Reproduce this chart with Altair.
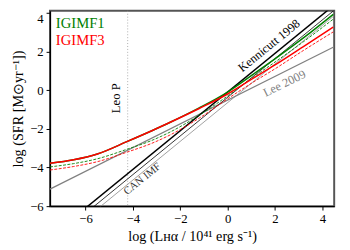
import altair as alt
import pandas as pd

# ---- data ----
ken_x = [-6.0, 4.5]
ken_y = [-6.1, 4.4]
can1_x = [-6.0, 4.5]
can1_y = [-6.37, 4.13]
can2_x = [-6.0, 4.5]
can2_y = [-6.65, 3.85]
lee_x = [-7.5, 4.5]
lee_y = [-5.12, 2.24]

ig_x = [-7.5, -6.5, -5.5, -4.23, -3.2, -2.4, -1.2, 0.0, 1.0, 2.0, 3.2, 4.46]
ig1_solid = [-3.78, -3.6, -3.3, -2.65, -2.1, -1.65, -0.92, -0.1, 0.75, 1.62, 2.7, 3.92]
ig3_solid = [-3.78, -3.6, -3.3, -2.65, -2.1, -1.65, -0.95, -0.2, 0.55, 1.3, 2.25, 3.26]
ig1_dash = [-3.97, -3.8, -3.55, -3.05, -2.6, -2.15, -1.3, -0.3, 0.6, 1.45, 2.5, 3.67]
ig3_dash = [-4.13, -3.95, -3.7, -3.2, -2.75, -2.3, -1.45, -0.45, 0.35, 1.1, 2.05, 3.01]

leo_p = -4.22

FONT = "Liberation Serif"
XD = [-7.5, 4.5]
YD = [-6, 4.1]

xs = alt.Scale(domain=XD, nice=False, zero=False)
ys = alt.Scale(domain=YD, nice=False, zero=False)

minus = "replace(datum.label, '-', '\u2212')"
xax = alt.Axis(values=[-6, -4, -2, 0, 2, 4], title="log (L\u029c\u03b1 / 10\u2074\u00b9 erg s\u207b\u00b9)",
               labelExpr=minus, grid=False)
yax = alt.Axis(values=[-6, -4, -2, 0, 2, 4], title="log (SFR [M\u2299yr\u207b\u00b9])",
               labelExpr=minus, grid=False,
               labelBaseline=alt.condition("datum.value == 4", alt.value("top"), alt.value("middle")))

X = lambda: alt.X("x:Q", scale=xs, axis=xax)
Y = lambda: alt.Y("y:Q", scale=ys, axis=yax)


def line(xv, yv, color, width, dash=None, interp="linear"):
    df = pd.DataFrame({"x": xv, "y": yv})
    kw = dict(color=color, strokeWidth=width, clip=True, interpolate=interp)
    if dash:
        kw["strokeDash"] = dash
    return alt.Chart(df).mark_line(**kw).encode(x=X(), y=Y())


leo = alt.Chart(pd.DataFrame({"x": [leo_p]})).mark_rule(
    color="#999999", strokeDash=[1, 2], strokeWidth=0.8
).encode(x=X())

layers = [
    line(lee_x, lee_y, "#808080", 1.2),
    leo,
    line(can2_x, can2_y, "#888888", 0.8),
    line(can1_x, can1_y, "black", 0.8),
    line(ken_x, ken_y, "black", 1.5),
    line(ig_x, ig1_dash, "green", 0.9, dash=[3, 1.5], interp="monotone"),
    line(ig_x, ig3_dash, "red", 0.9, dash=[3, 1.5], interp="monotone"),
    line(ig_x, ig1_solid, "green", 1.5, interp="monotone"),
    line(ig_x, ig3_solid, "red", 1.5, interp="monotone"),
]


def label(txt, x, y, angle, color, size):
    df = pd.DataFrame({"x": [x], "y": [y], "t": [txt]})
    return alt.Chart(df).mark_text(
        angle=angle, color=color, fontSize=size, font=FONT, align="center", baseline="middle"
    ).encode(x=X(), y=Y(), text="t:N")


layers += [
    label("Leo P", -4.7, -0.42, 270, "black", 13),
    label("Kennicutt 1998", 1.75, 2.3, 321, "black", 12.5),
    label("Lee 2009", 2.4, 0.35, 334, "#808080", 12.5),
    label("CAN IMF", -3.6, -4.6, 321, "#333333", 11),
]

legend1 = alt.Chart(pd.DataFrame({"t": ["IGIMF1"]})).mark_text(
    align="left", baseline="middle", color="green", fontSize=15, font=FONT
).encode(x=alt.value(6), y=alt.value(13), text="t:N")
legend3 = alt.Chart(pd.DataFrame({"t": ["IGIMF3"]})).mark_text(
    align="left", baseline="middle", color="red", fontSize=15, font=FONT
).encode(x=alt.value(6), y=alt.value(30), text="t:N")
layers += [legend1, legend3]

chart = alt.layer(*layers).properties(
    width=291, height=200,
    autosize=alt.AutoSizeParams(type="none"),
    padding={"left": 43, "top": 0, "right": 8, "bottom": 42},
).configure_view(
    stroke="#555555", strokeWidth=2
).configure_axis(
    labelFont=FONT, titleFont=FONT, labelFontSize=13, titleFontSize=14.5,
    labelColor="black", titleColor="black", titleFontWeight="normal",
    domainColor="black", domainWidth=1.3, tickColor="black", tickSize=4, tickWidth=1,
    labelPadding=3,
)

chart.save("out.html", embed_options={"renderer": "svg", "actions": False})
